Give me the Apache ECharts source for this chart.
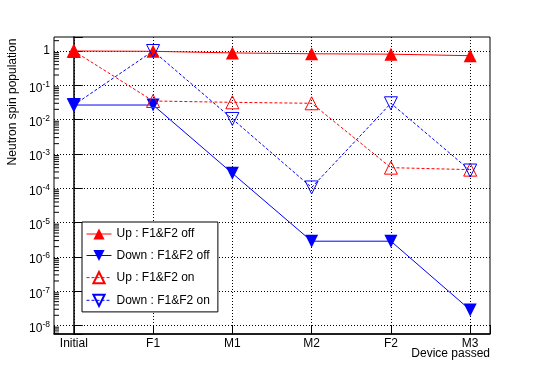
<!DOCTYPE html>
<html>
<head>
<meta charset="utf-8">
<script src="https://cdn.jsdelivr.net/npm/echarts@6/dist/echarts.min.js"></script>
<style>
  html, body { margin: 0; padding: 0; background: #fff; }
  #chart { width: 545px; height: 371px; }
</style>
</head>
<body>
<div id="chart"></div>
<script>
const devices = ['Initial', 'F1', 'M1', 'M2', 'F2', 'M3'];
const upOff = [1, 0.98, 0.88, 0.83, 0.81, 0.73];
const downOff = [0.0267, 0.0267, 2.74e-4, 2.88e-6, 2.88e-6, 2.86e-8];
const upOn = [1, 0.035, 0.032, 0.030, 4.0e-4, 3.5e-4];
const downOn = [0.0267, 1.0, 0.0105, 1.06e-4, 0.030, 3.3e-4];
const seriesNames = ['Up : F1&F2 off', 'Down : F1&F2 off', 'Up : F1&F2 on', 'Down : F1&F2 on'];

const font = 'Liberation Sans, Arial, sans-serif';
const RED = '#ff0000';
const BLUE = '#0000ff';

// minor ticks of the log axis: 2..9 x 10^n
const minorTickValues = [];
for (let n = -9; n <= 0; n++) {
  for (let k = 2; k <= 9; k++) {
    minorTickValues.push(k * Math.pow(10, n));
  }
}

function pairs(arr) {
  return arr.map((v, i) => [i, v]);
}

function lineSeries(name, values, color, filled, down, dashed) {
  return {
    name: name,
    type: 'line',
    data: pairs(values),
    symbol: 'triangle',
    symbolSize: 13,
    symbolRotate: down ? 180 : 0,
    lineStyle: { color: color, width: 1, type: dashed ? [3, 2] : 'solid' },
    itemStyle: filled
      ? { color: color }
      : { color: 'rgba(255,255,255,0)', borderColor: color, borderWidth: 1 },
    emphasis: { disabled: true },
    animation: false
  };
}

const chart = echarts.init(document.getElementById('chart'));

const option = {
  backgroundColor: '#fff',
  animation: false,
  grid: {
    left: 54, right: 55, top: 37, bottom: 37,
    show: true, borderColor: '#000', borderWidth: 1
  },
  xAxis: {
    type: 'value',
    min: -0.25,
    max: 5.25,
    splitNumber: 5,
    axisLine: { lineStyle: { color: '#000', width: 1.5 } },
    axisTick: { inside: true, length: 9, lineStyle: { color: '#000' } },
    axisLabel: {
      color: '#000', fontSize: 12, fontFamily: font, margin: 4,
      formatter: function (v) {
        return Math.abs(v - Math.round(v)) < 1e-6 ? (devices[Math.round(v)] || '') : '';
      }
    },
    splitLine: {
      show: true, showMinLine: false, showMaxLine: false,
      lineStyle: { color: '#000', width: 1, type: [1, 2] }
    }
  },
  yAxis: {
    type: 'log',
    logBase: 10,
    min: 5.7e-9,
    max: 2.56,
    splitNumber: 10,
    axisLine: { show: true, lineStyle: { color: '#000', width: 1.5 } },
    axisTick: { inside: true, length: 9, lineStyle: { color: '#000' } },
    axisLabel: {
      color: '#000', fontSize: 12, fontFamily: font, margin: 4,
      formatter: function (v) {
        const e = Math.log10(v);
        const r = Math.round(e);
        if (Math.abs(e - r) > 1e-6) return '';
        if (r === 0) return '1';
        return '{b|10}{s|' + r + '}';
      },
      rich: {
        b: { fontSize: 12, fontFamily: font, color: '#000', padding: [6, 0, 0, 0] },
        s: { fontSize: 8.5, fontFamily: font, color: '#000', padding: [0, 0, 2, 0] }
      }
    },
    splitLine: {
      show: true, showMinLine: false, showMaxLine: false,
      lineStyle: { color: '#000', width: 1, type: [1, 2] }
    }
  },
  legend: {
    data: seriesNames,
    orient: 'vertical',
    left: 82,
    top: 222,
    itemWidth: 25,
    itemHeight: 14,
    itemGap: 9.5,
    padding: [6, 8, 5, 4],
    borderColor: '#000',
    borderWidth: 1,
    backgroundColor: '#fff',
    selectedMode: false,
    lineStyle: { width: 1 },
    textStyle: { color: '#000', fontSize: 12, fontFamily: font }
  },
  graphic: [
    {
      type: 'text',
      x: 13, y: 102,
      rotation: Math.PI / 2,
      style: {
        text: 'Neutron spin population',
        fill: '#000', font: '12px ' + font,
        align: 'center', verticalAlign: 'middle'
      }
    },
    {
      type: 'text',
      x: 490, y: 354,
      style: {
        text: 'Device passed',
        fill: '#000', font: '12px ' + font,
        align: 'right', verticalAlign: 'middle'
      }
    }
  ],
  series: [
    {
      type: 'custom',
      silent: true,
      data: minorTickValues.map(v => [0, v]),
      renderItem: function (params, api) {
        const p = api.coord([0, api.value(1)]);
        const x0 = params.coordSys.x;
        if (p[1] < params.coordSys.y || p[1] > params.coordSys.y + params.coordSys.height) return null;
        return {
          type: 'line',
          shape: { x1: x0, y1: p[1], x2: x0 + 5, y2: p[1] },
          style: { stroke: '#000', lineWidth: 1 }
        };
      },
      animation: false,
      z: 1
    },
    lineSeries(seriesNames[0], upOff, RED, true, false, false),
    lineSeries(seriesNames[1], downOff, BLUE, true, true, false),
    lineSeries(seriesNames[2], upOn, RED, false, false, true),
    lineSeries(seriesNames[3], downOn, BLUE, false, true, true)
  ]
};

chart.setOption(option);
</script>
</body>
</html>
